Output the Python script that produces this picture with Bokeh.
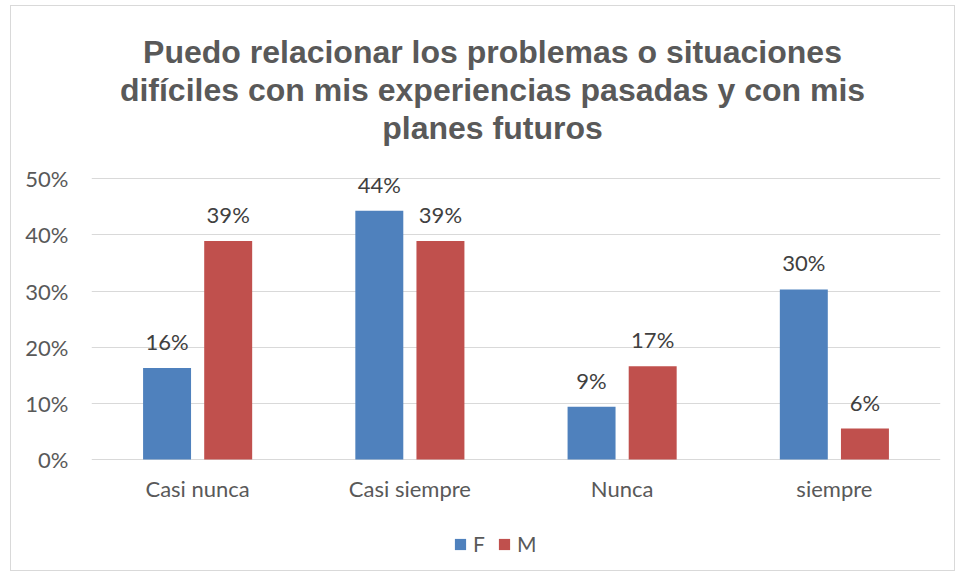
from bokeh.plotting import figure
from bokeh.models import (ColumnDataSource, FactorRange, Range1d, LabelSet, Label,
                          Legend, LegendItem, NumeralTickFormatter, FixedTicker)
from bokeh.transform import dodge
from bokeh.embed import file_html
from bokeh.resources import INLINE
from bokeh.core.properties import value

categories = ["Casi nunca", "Casi siempre", "Nunca", "siempre"]
f_values = [0.163, 0.443, 0.094, 0.303]
m_values = [0.389, 0.389, 0.166, 0.055]
series_names = ["F", "M"]
title_lines = ["Puedo relacionar los problemas o situaciones",
               "difíciles con mis experiencias pasadas y con mis",
               "planes futuros"]
y_ticks = [0, 0.1, 0.2, 0.3, 0.4, 0.5]

BLUE = "#4F81BD"
RED = "#C0504D"
TXT = "#595959"
DARK = "#404040"
GRID = "#D9D9D9"
FONT = "Lato"

src = ColumnDataSource(dict(
    cat=categories,
    f=f_values,
    m=m_values,
    f_lbl=[f"{round(v * 100):.0f}%" for v in f_values],
    m_lbl=[f"{round(v * 100):.0f}%" for v in m_values],
))

W, H = 945, 566
# vertical range chosen so that 0 .. 50% sits where the reference draws it,
# leaving room for title (top) and category labels / legend (bottom)
p = figure(x_range=FactorRange(*categories), y_range=Range1d(-0.2013, 0.8069),
           width=W, height=H, output_backend="svg", toolbar_location=None,
           min_border_left=80, min_border_right=16, min_border_top=0,
           min_border_bottom=0)
p.styles = {"border": "1px solid #D9D9D9", "margin-left": "10px", "margin-top": "5px"}
p.outline_line_color = None
p.xgrid.grid_line_color = None
p.ygrid.grid_line_color = GRID
p.ygrid.grid_line_width = 1
p.ygrid.ticker = FixedTicker(ticks=y_ticks)
p.xaxis.visible = False

off = 0.144
bw = 0.226
rf = p.vbar(x=dodge("cat", -off, range=p.x_range), top="f", width=bw, source=src,
            fill_color=BLUE, line_color=None)
rm = p.vbar(x=dodge("cat", off, range=p.x_range), top="m", width=bw, source=src,
            fill_color=RED, line_color=None)

for col, lbl, o in (("f", "f_lbl", -off), ("m", "m_lbl", off)):
    p.add_layout(LabelSet(x=dodge("cat", o, range=p.x_range), y=col, text=lbl, source=src,
                          y_offset=18, text_align="center", text_baseline="alphabetic",
                          text_font=value(FONT), text_font_size="22px", text_color=DARK))

# category labels under the baseline
p.add_layout(LabelSet(x="cat", y=0, text="cat", source=src, y_offset=-38,
                      text_align="center", text_baseline="alphabetic",
                      text_font=value(FONT), text_font_size="22px", text_color=TXT))

p.yaxis.ticker = FixedTicker(ticks=y_ticks)
p.yaxis.formatter = NumeralTickFormatter(format="0%")
p.yaxis.axis_line_color = None
p.yaxis.major_tick_line_color = None
p.yaxis.minor_tick_line_color = None
p.yaxis.major_tick_out = 0
p.yaxis.major_tick_in = 0
p.yaxis.major_label_standoff = 23
p.yaxis.major_label_text_font = FONT
p.yaxis.major_label_text_font_size = "22px"
p.yaxis.major_label_text_color = TXT

baselines = [44, 82, 120]
for line, yb in zip(title_lines, baselines):
    p.add_layout(Label(x=480, y=yb, x_units="canvas", y_units="canvas", text=line,
                       text_align="center", text_baseline="alphabetic",
                       text_font="Liberation Sans", text_font_style="bold",
                       text_font_size="32px", text_color=TXT))

legend = Legend(items=[LegendItem(label=series_names[0], renderers=[rf]),
                       LegendItem(label=series_names[1], renderers=[rm])],
                orientation="horizontal", location=(362, 16),
                glyph_width=14, glyph_height=14, label_standoff=6, spacing=4,
                padding=0, margin=0, border_line_color=None,
                background_fill_alpha=0,
                label_text_font=FONT, label_text_font_size="21px",
                label_text_color=TXT)
p.add_layout(legend, "center")

open("out.html", "w").write(file_html(p, INLINE))
